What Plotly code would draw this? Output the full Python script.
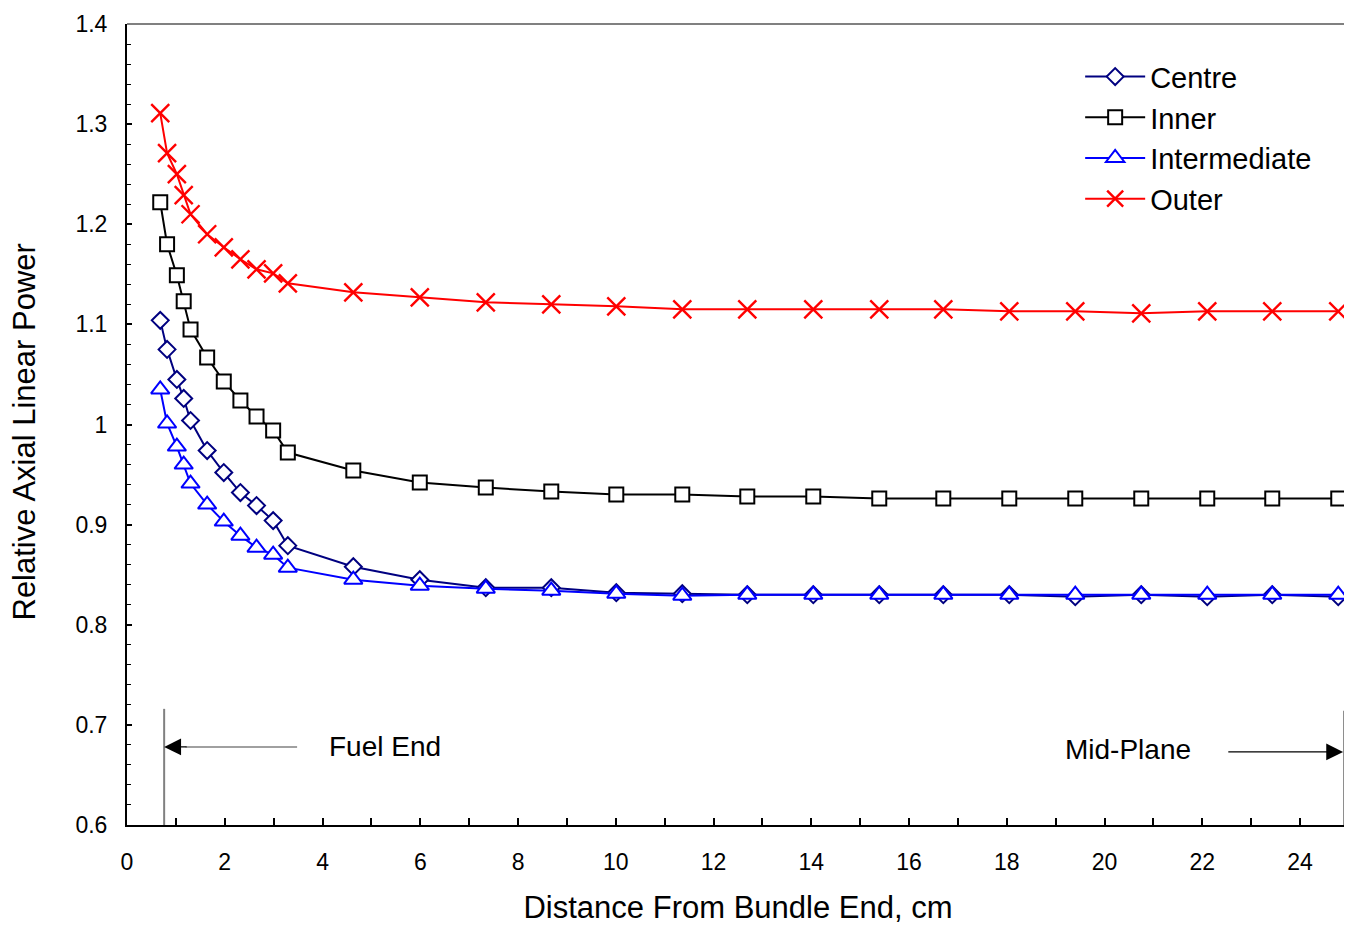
import plotly.graph_objects as go

# ---------------- data ----------------
distance_cm = [0.68, 0.82, 1.02, 1.16, 1.30, 1.64, 1.98, 2.32, 2.65, 2.99, 3.29,
               4.63, 5.99, 7.34, 8.68, 10.01, 11.36, 12.69, 14.04, 15.39, 16.70,
               18.05, 19.40, 20.75, 22.10, 23.43, 24.78]

centre = [1.104, 1.075, 1.045, 1.026, 1.004, 0.974, 0.952, 0.932, 0.919, 0.904, 0.879,
          0.858, 0.845, 0.837, 0.837, 0.832, 0.831, 0.830, 0.830, 0.830, 0.830,
          0.830, 0.828, 0.830, 0.828, 0.830, 0.828]

inner = [1.222, 1.180, 1.149, 1.123, 1.095, 1.067, 1.043, 1.024, 1.008, 0.994, 0.972,
         0.954, 0.942, 0.937, 0.933, 0.930, 0.930, 0.928, 0.928, 0.926, 0.926,
         0.926, 0.926, 0.926, 0.926, 0.926, 0.926]

intermediate = [1.035, 1.001, 0.978, 0.960, 0.941, 0.920, 0.903, 0.889, 0.877, 0.870, 0.857,
                0.845, 0.839, 0.836, 0.834, 0.831, 0.829, 0.830, 0.830, 0.830, 0.830,
                0.830, 0.830, 0.830, 0.830, 0.830, 0.830]

outer = [1.311, 1.271, 1.250, 1.229, 1.210, 1.190, 1.177, 1.165, 1.155, 1.151, 1.141,
         1.132, 1.127, 1.122, 1.120, 1.118, 1.115, 1.115, 1.115, 1.115, 1.115,
         1.113, 1.113, 1.111, 1.113, 1.113, 1.113]

x_tick_vals = [0, 2, 4, 6, 8, 10, 12, 14, 16, 18, 20, 22, 24]
x_tick_text = ["0", "2", "4", "6", "8", "10", "12", "14", "16", "18", "20", "22", "24"]
y_tick_vals = [0.6, 0.7, 0.8, 0.9, 1.0, 1.1, 1.2, 1.3, 1.4]
y_tick_text = ["0.6", "0.7", "0.8", "0.9", "1", "1.1", "1.2", "1.3", "1.4"]

# annotation anchors (data units)
fuel_end_x = 0.76
mid_plane_x = 24.9
marker_top_y = 0.716

FONT = "Arial, Liberation Sans, sans-serif"

fig = go.Figure()

def add_series(name, y, color, symbol, size, fill="white", lw=2):
    fig.add_trace(go.Scatter(
        x=distance_cm, y=y, name=name, mode="lines+markers",
        line=dict(color=color, width=2),
        marker=dict(symbol=symbol, size=size, color=fill,
                    line=dict(color=color, width=lw)),
    ))

add_series("Centre", centre, "#000080", "diamond", 13)
add_series("Inner", inner, "#000000", "square", 14)
add_series("Intermediate", intermediate, "#0000FF", "triangle-up", 16)
add_series("Outer", outer, "#FF0000", "x-thin", 18, fill="#FF0000", lw=2.4)

shapes = [
    # gray frame top and right
    dict(type="line", xref="paper", yref="paper", x0=0, x1=1, y0=1, y1=1,
         line=dict(color="#808080", width=2)),
    dict(type="line", xref="paper", yref="paper", x0=1, x1=1, y0=0, y1=1,
         line=dict(color="#808080", width=2)),
    # fuel end / mid-plane markers
    dict(type="line", xref="x", yref="y", x0=fuel_end_x, x1=fuel_end_x, y0=0.6, y1=marker_top_y,
         line=dict(color="#808080", width=2)),
    dict(type="line", xref="x", yref="y", x0=mid_plane_x, x1=mid_plane_x, y0=0.6, y1=0.714,
         line=dict(color="#808080", width=2)),
    dict(type="line", xref="x", yref="y", x0=1.2, x1=3.48, y0=0.678, y1=0.678,
         line=dict(color="#808080", width=1.5)),
]

annotations = [
    dict(x=fuel_end_x, y=0.678, ax=1.25, ay=0.678, xref="x", yref="y", axref="x", ayref="y",
         showarrow=True, arrowhead=2, arrowsize=2.6, arrowwidth=1.3, arrowcolor="#000000",
         text=""),
    dict(x=5.27, y=0.678, xref="x", yref="y", text="Fuel End", showarrow=False,
         font=dict(family=FONT, size=28, color="#000000")),
    dict(x=mid_plane_x - 0.02, y=0.673, ax=22.5, ay=0.673, xref="x", yref="y", axref="x", ayref="y",
         showarrow=True, arrowhead=2, arrowsize=2.6, arrowwidth=1.3, arrowcolor="#000000",
         text=""),
    dict(x=20.48, y=0.675, xref="x", yref="y", text="Mid-Plane", showarrow=False,
         font=dict(family=FONT, size=28, color="#000000")),
    # y-axis title
    dict(x=0, y=0.49, xref="paper", yref="paper", xanchor="center", yanchor="middle",
         xshift=-102, textangle=-90, showarrow=False,
         text="Relative Axial Linear Power",
         font=dict(family=FONT, size=31, color="#000000")),
]

fig.update_layout(
    width=1344, height=918,
    margin=dict(l=119, r=3, t=13, b=101),
    paper_bgcolor="white", plot_bgcolor="white",
    font=dict(family=FONT, color="#000000"),
    showlegend=True,
    legend=dict(x=0.780, y=0.966, xanchor="left", yanchor="top",
                font=dict(family=FONT, size=29, color="#000000"),
                bgcolor="rgba(0,0,0,0)", itemwidth=60, tracegroupgap=0),
    shapes=shapes,
    annotations=annotations,
    xaxis=dict(
        range=[0, 25], showgrid=False, zeroline=False,
        showline=True, linecolor="#000000", linewidth=2,
        tickmode="array", tickvals=x_tick_vals, ticktext=x_tick_text,
        ticks="inside", ticklen=7, tickwidth=1.5, tickcolor="#000000",
        minor=dict(dtick=1, tick0=0, ticks="inside", ticklen=7, tickwidth=1.5, tickcolor="#000000"),
        tickfont=dict(family=FONT, size=23, color="#000000"),
        ticklabelstandoff=15,
        title=dict(text="Distance From Bundle End, cm", font=dict(family=FONT, size=31, color="#000000"),
                   standoff=23),
    ),
    yaxis=dict(
        range=[0.6, 1.4], showgrid=False, zeroline=False,
        showline=True, linecolor="#000000", linewidth=2,
        tickmode="array", tickvals=y_tick_vals, ticktext=y_tick_text,
        ticks="inside", ticklen=5, tickwidth=1.5, tickcolor="#000000",
        minor=dict(dtick=0.02, tick0=0.6, ticks="inside", ticklen=4, tickwidth=1.2, tickcolor="#000000"),
        tickfont=dict(family=FONT, size=23, color="#000000"),
        ticklabelstandoff=13,
    ),
)

fig.write_html("out.html")
